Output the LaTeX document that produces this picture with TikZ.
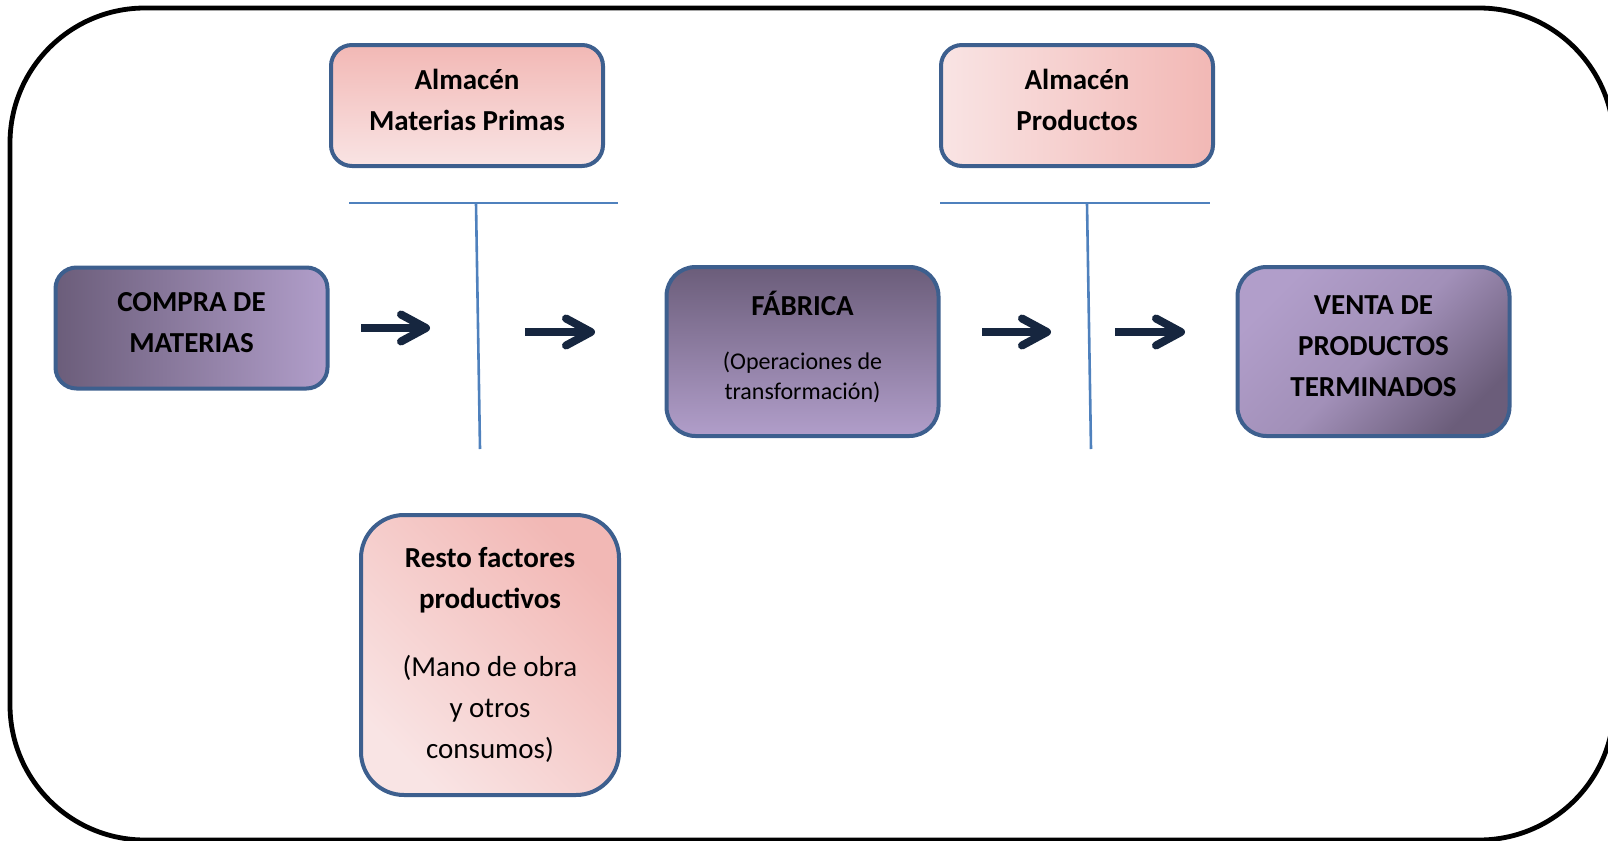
\documentclass[tikz,border=0pt]{standalone}
\usepackage{fontspec}
\setmainfont{Carlito}
\usepackage{tikz}
\usetikzlibrary{arrows.meta}
\newcommand\U{0.5pt}
\newcommand\baja[1]{\rule[-#1]{0pt}{0pt}}

\definecolor{rosaF}{HTML}{F2B8B5}
\definecolor{rosaC}{HTML}{F9E4E4}
\definecolor{lilaF}{HTML}{6B5D7A}
\definecolor{lilaC}{HTML}{B19ECA}
\definecolor{borde}{HTML}{3D5F8E}
\definecolor{linea}{HTML}{4F81BD}
\definecolor{azulosc}{HTML}{16263F}

\begin{document}
\begin{tikzpicture}[x=\U,y=-\U]

  \tikzstyle{every node}=[font=\fontsize{14.5}{20.5}\selectfont,inner sep=0pt]
  \tikzstyle{caja}=[rectangle,draw=borde,line width=2pt,align=center,
                    minimum width=136pt,minimum height=60.5pt,rounded corners=10.5pt]
  \tikzstyle{alta}=[minimum height=84.5pt,rounded corners=14.5pt]
  \tikzstyle{titulo}=[caja,font=\fontsize{14.5}{20.5}\selectfont\bfseries]
  \tikzstyle{sep}=[draw=linea,line width=1.3pt]
  \tikzstyle{flecha}=[draw=azulosc,line width=4pt,
                      -{Straight Barb[round,length=12.5pt,width=13.5pt]}]

  \useasboundingbox (0,0) rectangle (1608,841);
  \draw[line width=2.4pt,rounded corners=67.5pt] (10,8) rectangle (1614,840);

  \node[titulo,top color=rosaF,bottom color=rosaC]  (AMP) at (467,105.5)
       {Almacén\\Materias Primas\baja{5.5pt}};
  \node[titulo,left color=rosaC,right color=rosaF]  (APR) at (1077,105.5)
       {Almacén\\Productos\baja{5.5pt}};
  \node[titulo,left color=lilaF,right color=lilaC]  (CMP) at (191.5,328)
       {COMPRA DE\\MATERIAS\baja{6pt}};
  \node[titulo,alta,top color=lilaF,bottom color=lilaC,
        font=\fontsize{12}{15}\selectfont]          (FAB) at (802.5,351.5)
       {{\fontsize{14.5}{20.5}\selectfont\bfseries FÁBRICA}\\[12pt]
        (Operaciones de\\transformación)\baja{6.5pt}};
  \node[titulo,alta,top color=lilaC,bottom color=lilaF,
        middle color=lilaC!78!lilaF,shading angle=45] (VTA) at (1373.5,351.5)
       {VENTA DE\\PRODUCTOS\\TERMINADOS\baja{5.5pt}};
  \node[caja,minimum width=129pt,minimum height=140pt,rounded corners=21.5pt,
        top color=rosaF,bottom color=rosaC,shading angle=-45] (RST) at (490,655)
       {\textbf{Resto factores}\\\textbf{productivos}\\[13.5pt]
        (Mano de obra\\y otros\\consumos)};

  % separadores
  \coordinate (H1a) at (349,203);  \coordinate (H1b) at (618,203);
  \coordinate (V1a) at (476,203);  \coordinate (V1b) at (480,449);
  \coordinate (H2a) at (940,203);  \coordinate (H2b) at (1210,203);
  \coordinate (V2a) at (1087,203); \coordinate (V2b) at (1091,449);

  \draw[sep] (H1a) -- (H1b);
  \draw[sep] (V1a) -- (V1b);
  \draw[sep] (H2a) -- (H2b);
  \draw[sep] (V2a) -- (V2b);

  % flechas
  \coordinate (F1a) at (361,328);  \coordinate (F1b) at (430,328);
  \coordinate (F2a) at (525,332);  \coordinate (F2b) at (595,332);
  \coordinate (F3a) at (982,332);  \coordinate (F3b) at (1051,332);
  \coordinate (F4a) at (1115,332); \coordinate (F4b) at (1185,332);

  \path
  (F1a) edge [flecha] (F1b)
  (F2a) edge [flecha] (F2b)
  (F3a) edge [flecha] (F3b)
  (F4a) edge [flecha] (F4b)
  ;
\end{tikzpicture}
\end{document}
